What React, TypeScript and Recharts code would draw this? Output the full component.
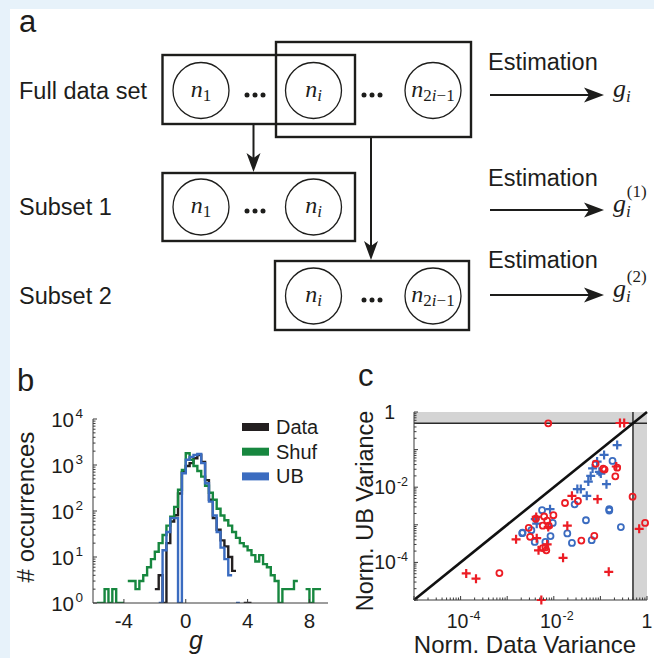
import React from 'react';
import { LineChart, Line, XAxis, YAxis, ScatterChart, Scatter, ReferenceArea, ReferenceLine } from 'recharts';

const SANS = '"Liberation Sans", Arial, Helvetica, sans-serif';
const SERIF = '"Liberation Serif", "DejaVu Serif", "Times New Roman", serif';
const INK = '#1d1d1b';
const AX = '#3a3a3a';
const BG = '#e7f2fa';

// ---------------- panel b : histogram of g ----------------
const G_EDGES = [-6, -5.75, -5.5, -5.25, -5, -4.75, -4.5, -4.25, -4, -3.75, -3.5, -3.25, -3, -2.75, -2.5, -2.25,
  -2, -1.75, -1.5, -1.25, -1, -0.75, -0.5, -0.25, 0, 0.25, 0.5, 0.75, 1, 1.25, 1.5, 1.75, 2, 2.25, 2.5, 2.75,
  3, 3.25, 3.5, 3.75, 4, 4.25, 4.5, 4.75, 5, 5.25, 5.5, 5.75, 6, 6.25, 6.5, 6.75, 7, 7.25, 7.5, 7.75, 8, 8.25,
  8.5, 8.75, 9];
const N = null;
const DATA_COUNTS = [N, N, N, N, N, N, N, N, N, N, N, N, N, N, N, N,
  2, 4, 1, 20, 59, 81, 240, 700, 950, 1100, 1400, 1650, 1170, 470, 175, 70, 39, 23, 17, 10,
  5, N, N, 1, 1, N, N, N, N, N, N, N, N, N, N, N, N, N, N, N, N, N, N, N];
const SHUF_COUNTS = [N, 1, 1, 2, 1, 2, 1, 1, N, 3, 3, 2, 3, 4, 6, 9,
  13, 20, 30, 48, 75, 123, 290, 780, 1800, 1300, 950, 740, 560, 355, 250, 175, 112, 80, 63, 48,
  35, 26, 20, 17, 14, 11, 8, 11, 7, 6, 4, 3, 1, 2, 2, 2, 3, N, N, 2, 1, 2, 2, N];
const UB_COUNTS = [N, N, N, N, N, N, N, N, N, N, N, N, N, N, N, N,
  N, 1, 14, 35, 70, 70, 1, 660, 1300, 1500, 1650, 1740, 1100, 400, 160, 80, 35, 16, 9, 4,
  N, 1, N, N, N, N, N, N, N, N, N, N, N, N, N, N, N, N, N, N, N, N, N, N];
const G_TICKS = [-4, 0, 4, 8];
const SERIES_B = [
  { key: 'data', name: 'Data', color: '#231f20' },
  { key: 'shuf', name: 'Shuf', color: '#17873f' },
  { key: 'ub', name: 'UB', color: '#3b6cc0' },
];

// ---------------- panel c : variance scatter ----------------
const RED_CIRCLES = [
  [0.0076, 0.5], [0.00068, 5.2e-5], [0.0029, 0.00083], [0.0031, 0.00048], [0.0041, 0.00145],
  [0.0062, 0.00166], [0.0072, 0.00129], [0.0078, 0.00095], [0.0098, 0.0018], [0.0058, 0.00095],
  [0.0066, 0.00025], [0.0069, 0.00021], [0.0058, 0.00024], [0.0174, 0.0038], [0.033, 0.0043],
  [0.039, 0.00038], [0.074, 0.00051], [0.079, 0.042], [0.115, 0.031], [0.123, 0.0295],
  [0.209, 0.0195], [0.229, 0.033], [0.49, 0.0056], [0.91, 0.00112],
];
const RED_PLUSES = [
  [0.000132, 5.1e-5], [0.000214, 3.7e-5], [0.00155, 0.00041], [0.0047, 0.00021], [0.0072, 0.0003],
  [0.0076, 0.00087], [0.0042, 0.00162], [0.0043, 0.00044], [0.0158, 0.000132], [0.0195, 0.00095],
  [0.0245, 0.0059], [0.087, 0.0048], [0.151, 5.6e-5], [0.219, 0.0355], [0.263, 0.51],
  [0.324, 0.51], [0.68, 0.00078], [0.0054, 1e-5],
];
const BLUE_CIRCLES = [
  [0.0021, 0.0006], [0.00214, 0.00062], [0.0033, 0.00072], [0.0039, 0.00035], [0.0056, 0.00245],
  [0.0066, 0.00035], [0.0085, 0.0005], [0.0095, 0.00112], [0.0195, 0.00059], [0.0245, 0.00033],
  [0.028, 0.0035], [0.049, 0.00132], [0.065, 0.00039], [0.155, 0.0026], [0.155, 0.0024],
  [0.182, 0.05], [0.275, 0.00087],
];
const BLUE_PLUSES = [
  [0.004, 0.00141], [0.0043, 0.00107], [0.0083, 0.0026], [0.032, 0.0089], [0.038, 0.0089],
  [0.051, 0.0059], [0.055, 0.0141], [0.062, 0.02], [0.068, 0.0316], [0.085, 0.048],
  [0.095, 0.0257], [0.102, 0.023], [0.12, 0.072], [0.135, 0.012], [0.229, 0.132],
];
const C_LABELLED = [1e-4, 1e-2, 1];
const THRESHOLD = 0.5;
const RED = '#ec1c24';
const BLUE = '#3b6cc0';

// ---------- helpers ----------
const logTicks = (lo: number, hi: number) => {
  const t: number[] = [];
  for (let e = lo; e < hi; e++) for (let m = 1; m < 10; m++) t.push(m * Math.pow(10, e));
  t.push(Math.pow(10, hi));
  return t;
};
const expOf = (v: number) => Math.round(Math.log10(v));
const isDecade = (v: number) => Math.abs(Math.log10(v) - expOf(v)) < 1e-6;
const isLabelled = (v: number) => C_LABELLED.some((l) => Math.abs(Math.log10(l) - Math.log10(v)) < 1e-6);

const histRows: any[] = [];
for (let k = 0; k < G_EDGES.length - 1; k++) {
  histRows.push({ g: G_EDGES[k], data: DATA_COUNTS[k], shuf: SHUF_COUNTS[k], ub: UB_COUNTS[k] });
  histRows.push({ g: G_EDGES[k + 1], data: DATA_COUNTS[k], shuf: SHUF_COUNTS[k], ub: UB_COUNTS[k] });
}
const toPts = (arr: number[][]) => arr.map(([x, y]) => ({ x, y }));

// ---------- ticks ----------
const BXTick = (p: any) => (
  <g>
    <line x1={p.x} x2={p.x} y1={p.y} y2={p.y - 4} stroke={AX} />
    <text x={p.x} y={p.y + 25} textAnchor="middle" fontSize={20.5} fontFamily={SANS} fill={INK}>
      {p.payload.value}
    </text>
  </g>
);
const BYTick = (p: any) => {
  const v = p.payload.value;
  const major = isDecade(v);
  return (
    <g>
      <line x1={p.x} x2={p.x + (major ? 4 : 2.5)} y1={p.y} y2={p.y} stroke={AX} />
      {major && (
        <text x={p.x - 10} y={p.y + 7.5} textAnchor="end" fontSize={20.5} fontFamily={SANS} fill={INK}>
          10<tspan dx={1.5} dy={-9} fontSize={13.5}>{expOf(v)}</tspan>
        </text>
      )}
    </g>
  );
};
const CXTick = (p: any) => {
  const v = p.payload.value;
  const major = isDecade(v);
  const e = expOf(v);
  return (
    <g>
      <line x1={p.x} x2={p.x} y1={p.y} y2={p.y - (major ? 4 : 2.5)} stroke={AX} />
      {major && isLabelled(v) && (
        <text x={p.x + (e === 0 ? 0 : 3)} y={p.y + 28} textAnchor="middle" fontSize={19.5} fontFamily={SANS} fill={INK}>
          {e === 0 ? '1' : <>10<tspan dx={1} dy={-8} fontSize={12.5}>{e}</tspan></>}
        </text>
      )}
    </g>
  );
};
const CYTick = (p: any) => {
  const v = p.payload.value;
  const major = isDecade(v);
  const e = expOf(v);
  return (
    <g>
      <line x1={p.x} x2={p.x + (major ? 4 : 2.5)} y1={p.y} y2={p.y} stroke={AX} />
      {major && isLabelled(v) && (
        e === 0 ? (
          <text x={p.x - 19} y={p.y + 7} textAnchor="end" fontSize={19.5} fontFamily={SANS} fill={INK}>1</text>
        ) : (
          <text x={p.x - 6} y={p.y + 7} textAnchor="end" fontSize={19.5} fontFamily={SANS} fill={INK}>
            10<tspan dx={1} dy={-8} fontSize={12.5}>{e}</tspan>
          </text>
        )
      )}
    </g>
  );
};

const circleShape = (color: string) => (p: any) => (
  <circle cx={p.cx} cy={p.cy} r={3} fill="none" stroke={color} strokeWidth={1.8} />
);
const plusShape = (color: string) => (p: any) => (
  <path d={`M${p.cx - 4.5},${p.cy}H${p.cx + 4.5}M${p.cx},${p.cy - 4.5}V${p.cy + 4.5}`} stroke={color} strokeWidth={2.2} fill="none" />
);

// ---------- panel a ----------
const Ell = ({ cx, cy }: any) => <ellipse cx={cx} cy={cy} rx={28} ry={28} fill="none" stroke={INK} strokeWidth={1.3} />;
const Dots = ({ cx, cy }: any) => (
  <g fill={INK}>{[-8, 0, 8].map((d) => <circle key={d} cx={cx + d} cy={cy} r={2.5} />)}</g>
);
const HArrow = ({ x1, x2, y }: any) => (
  <g>
    <line x1={x1} y1={y} x2={x2 - 12} y2={y} stroke={INK} strokeWidth={2} />
    <path d={`M${x2},${y} L${x2 - 20},${y - 7.5} L${x2 - 15},${y} L${x2 - 20},${y + 7.5} Z`} fill={INK} />
  </g>
);
const VArrow = ({ x, y1, y2 }: any) => (
  <g>
    <line x1={x} y1={y1} x2={x} y2={y2 - 12} stroke={INK} strokeWidth={2} />
    <path d={`M${x},${y2} L${x - 7},${y2 - 19} L${x},${y2 - 14} L${x + 7},${y2 - 19} Z`} fill={INK} />
  </g>
);
const NLabel = ({ cx, cy, sub }: any) => (
  <text x={cx} y={cy + 6} textAnchor="middle" fontFamily={SERIF} fontSize={24} fill={INK}>
    <tspan fontStyle="italic">n</tspan>
    {sub === '1' && <tspan fontSize={17} dy={4}>1</tspan>}
    {sub === 'i' && <tspan fontSize={17} dy={4} fontStyle="italic">i</tspan>}
    {sub === '2i' && (
      <>
        <tspan fontSize={17} dy={4}>2</tspan>
        <tspan fontSize={17} fontStyle="italic">i</tspan>
        <tspan fontSize={17}>−1</tspan>
      </>
    )}
  </text>
);
const GLabel = ({ x, y, sup }: any) => (
  <text x={x} y={y} fontFamily={SERIF} fontSize={26} fill={INK}>
    <tspan fontStyle="italic">g</tspan>
    <tspan fontSize={17} dy={5} fontStyle="italic">i</tspan>
    {sup && <tspan fontSize={17} dx={-4} dy={-20}>{sup}</tspan>}
  </text>
);
const txt = { fontFamily: SANS, fontSize: 23.5, fill: INK };

function DiagramA() {
  const rows = [
    { label: 'Full data set', cy: 90.5, est: 70, ay: 95, sup: null },
    { label: 'Subset 1', cy: 207, est: 186, ay: 210, sup: '(1)' },
    { label: 'Subset 2', cy: 296, est: 268, ay: 295, sup: '(2)' },
  ];
  return (
    <svg width={654} height={350} style={{ position: 'absolute', left: 0, top: 0 }}>
      <text x={19} y={32} fontFamily={SANS} fontSize={31} fill={INK}>a</text>
      {rows.map((r) => (
        <g key={r.label}>
          <text x={19} y={r.cy + 8} {...txt}>{r.label}</text>
          <text x={488} y={r.est} {...txt}>Estimation</text>
          <HArrow x1={490} x2={604} y={r.ay} />
          <GLabel x={613} y={r.ay + 2} sup={r.sup} />
        </g>
      ))}
      <rect x={162.5} y={55} width={192.5} height={69} fill="none" stroke={INK} strokeWidth={2.4} />
      <rect x={276} y={42} width={195} height={95} fill="none" stroke={INK} strokeWidth={2.4} />
      <Ell cx={201} cy={90.5} /><NLabel cx={201} cy={90.5} sub="1" />
      <Dots cx={255} cy={95} />
      <Ell cx={313.5} cy={90.5} /><NLabel cx={313.5} cy={90.5} sub="i" />
      <Dots cx={372} cy={95} />
      <Ell cx={433} cy={90.5} /><NLabel cx={433} cy={90.5} sub="2i" />
      <rect x={162.5} y={173} width={192.5} height={68} fill="none" stroke={INK} strokeWidth={2.4} />
      <Ell cx={201} cy={207} /><NLabel cx={201} cy={207} sub="1" />
      <Dots cx={255} cy={211} />
      <Ell cx={313.5} cy={207} /><NLabel cx={313.5} cy={207} sub="i" />
      <rect x={275} y={261} width={194} height={69} fill="none" stroke={INK} strokeWidth={2.4} />
      <Ell cx={313.5} cy={296} /><NLabel cx={313.5} cy={296} sub="i" />
      <Dots cx={372} cy={300} />
      <Ell cx={433} cy={296} /><NLabel cx={433} cy={296} sub="2i" />
      <VArrow x={253.5} y1={124} y2={172} />
      <VArrow x={371} y1={137} y2={260} />
    </svg>
  );
}

function PanelB() {
  return (
    <div style={{ position: 'absolute', left: 0, top: 360, width: 340, height: 298 }}>
      <LineChart width={340} height={298} data={histRows} margin={{ top: 59, right: 12, bottom: 54, left: 92 }}>
        <XAxis type="number" dataKey="g" domain={[-6, 9.2]} ticks={G_TICKS} interval={0} allowDataOverflow
          height={1} tickSize={0} tickMargin={0} tick={BXTick} tickLine={false} axisLine={{ stroke: AX, strokeWidth: 1 }} />
        <YAxis type="number" scale="log" domain={[1, 10000]} ticks={logTicks(0, 4)} interval={0} allowDataOverflow
          width={1} tickSize={0} tickMargin={0} tick={BYTick} tickLine={false} axisLine={{ stroke: AX, strokeWidth: 1 }} />
        {SERIES_B.map((s) => (
          <Line key={s.key} dataKey={s.key} name={s.name} type="linear" stroke={s.color} strokeWidth={2.4}
            dot={false} activeDot={false} connectNulls={false} isAnimationActive={false} />
        ))}
      </LineChart>
      <svg width={340} height={298} style={{ position: 'absolute', left: 0, top: 0, pointerEvents: 'none' }}>
        <text transform="translate(34,147) rotate(-90)" textAnchor="middle" fontFamily={SANS} fontSize={24} fill={INK}># occurrences</text>
        <text x={196} y={289} textAnchor="middle" fontFamily={SANS} fontStyle="italic" fontSize={25} fill={INK}>g</text>
        {SERIES_B.map((s, i) => (
          <g key={s.key}>
            <rect x={242} y={63 + i * 24.7} width={27} height={8} fill={s.color} />
            <text x={276} y={74 + i * 24.7} fontFamily={SANS} fontSize={20} fill={INK}>{s.name}</text>
          </g>
        ))}
      </svg>
    </div>
  );
}

function PanelC() {
  return (
    <div style={{ position: 'absolute', left: 340, top: 360, width: 314, height: 298 }}>
      <ScatterChart width={314} height={298} margin={{ top: 52, right: 7, bottom: 57, left: 73 }}>
        <XAxis type="number" dataKey="x" scale="log" domain={[1e-5, 1]} ticks={logTicks(-5, 0)} interval={0}
          height={1} tickSize={0} tickMargin={0} tick={CXTick} tickLine={false} axisLine={{ stroke: AX, strokeWidth: 1 }} />
        <YAxis type="number" dataKey="y" scale="log" domain={[1e-5, 1]} ticks={logTicks(-5, 0)} interval={0}
          width={1} tickSize={0} tickMargin={0} tick={CYTick} tickLine={false} axisLine={{ stroke: AX, strokeWidth: 1 }} />
        <ReferenceArea x1={1e-5} x2={1} y1={THRESHOLD} y2={1} fill="#d4d4d4" fillOpacity={1} stroke="none" />
        <ReferenceArea x1={THRESHOLD} x2={1} y1={1e-5} y2={1} fill="#d4d4d4" fillOpacity={1} stroke="none" />
        <ReferenceLine y={THRESHOLD} stroke="#2a2a2a" strokeWidth={1.5} />
        <ReferenceLine x={THRESHOLD} stroke="#2a2a2a" strokeWidth={1.5} />
        <ReferenceLine segment={[{ x: 1e-5, y: 1e-5 }, { x: 1, y: 1 }]} stroke="#111" strokeWidth={2.6} />
        <Scatter data={toPts(BLUE_CIRCLES)} shape={circleShape(BLUE)} isAnimationActive={false} />
        <Scatter data={toPts(BLUE_PLUSES)} shape={plusShape(BLUE)} isAnimationActive={false} />
        <Scatter data={toPts(RED_CIRCLES)} shape={circleShape(RED)} isAnimationActive={false} />
        <Scatter data={toPts(RED_PLUSES)} shape={plusShape(RED)} isAnimationActive={false} />
      </ScatterChart>
      <svg width={314} height={298} style={{ position: 'absolute', left: 0, top: 0, pointerEvents: 'none' }}>
        <text transform="translate(33,151) rotate(-90)" textAnchor="middle" fontFamily={SANS} fontSize={23.5} fill={INK}>Norm. UB Variance</text>
        <text x={185} y={293} textAnchor="middle" fontFamily={SANS} fontSize={24} fill={INK}>Norm. Data Variance</text>
      </svg>
    </div>
  );
}

function PanelLetters() {
  return (
    <svg width={654} height={658} style={{ position: 'absolute', left: 0, top: 0, pointerEvents: 'none' }}>
      <text x={17} y={391} fontFamily={SANS} fontSize={31} fill={INK}>b</text>
      <text x={358} y={386} fontFamily={SANS} fontSize={31} fill={INK}>c</text>
    </svg>
  );
}

export default function App() {
  return (
    <div style={{ position: 'absolute', left: 0, top: 0, width: 654, height: 658, background: '#fff', overflow: 'hidden' }}>
      <div style={{ position: 'absolute', left: 0, top: 0, width: 654, height: 9, background: BG }} />
      <div style={{ position: 'absolute', left: 0, top: 0, width: 10, height: 658, background: BG }} />
      <DiagramA />
      <PanelB />
      <PanelC />
      <PanelLetters />
    </div>
  );
}
